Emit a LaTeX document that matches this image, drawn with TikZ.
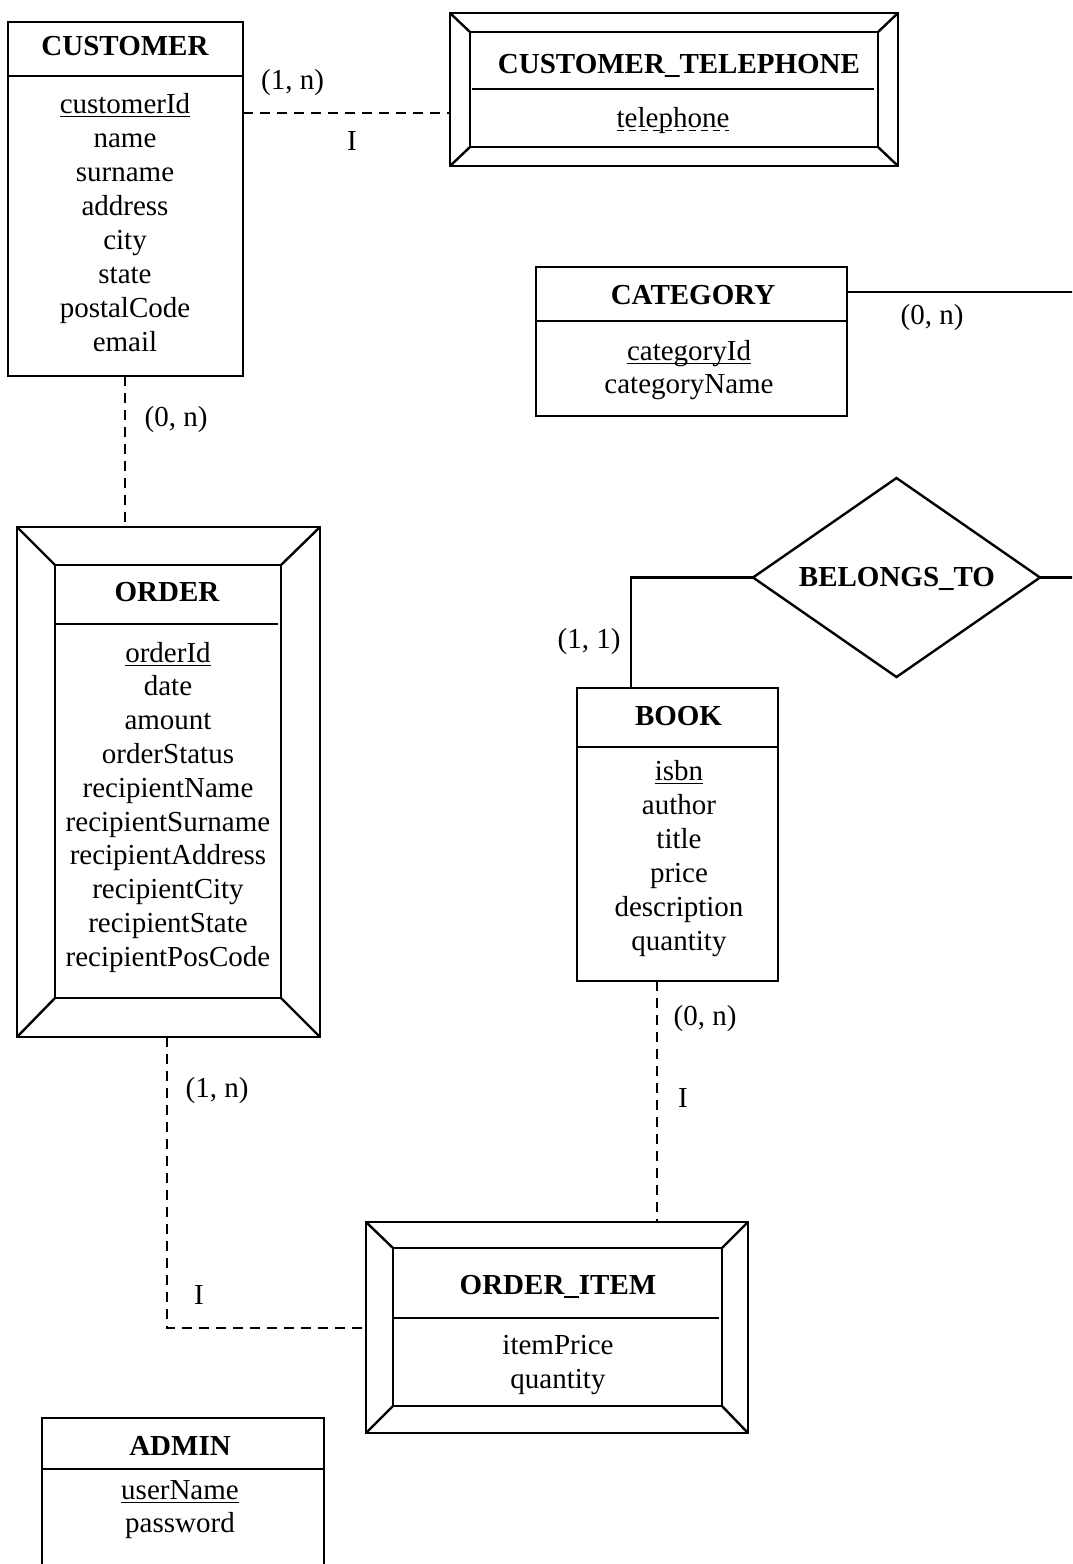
\documentclass[tikz,border=0pt]{standalone}
\usepackage{fontspec}
\setmainfont{Liberation Serif}
\usetikzlibrary{shapes.geometric,calc}
\begin{document}
\begin{tikzpicture}[x=1pt,y=-1pt,line width=2.4pt,
  box/.style={draw,rectangle,inner sep=0pt,outer sep=0pt,line width=2.4pt},
  txt/.style={inner sep=0pt,outer sep=0pt,anchor=base,font=\fontsize{29}{34}\selectfont},
  ttl/.style={txt,font=\fontsize{29}{34}\selectfont\bfseries},
  conn/.style={line width=2.4pt,dash pattern=on 10pt off 7pt},
  sconn/.style={line width=2.4pt},
  uline/.style={line width=1.8pt},
  duline/.style={line width=1.8pt,dash pattern=on 7pt off 5pt}]
\useasboundingbox (0,0) rectangle (1072,1564);
\clip (0,0) rectangle (1072,1564);

% CUSTOMER
\node[box,minimum width=235pt,minimum height=354pt] (cust) at (125.5,199) {};
\draw (cust.west |- 0,76) -- (cust.east |- 0,76);
\node[ttl] (custt) at (125,55) {CUSTOMER};
\node[txt] (custk) at (125,113) {customerId};
\draw[uline] ([yshift=-3.5pt]custk.base west) -- ([yshift=-3.5pt]custk.base east);
\foreach \t [count=\i from 1] in {name,surname,address,city,state,postalCode,email}
  \node[txt] at (125,{113+34*\i}) {\t};

% CUSTOMER_TELEPHONE (weak entity)
\node[box,minimum width=448pt,minimum height=153pt] (telo) at (674,89.5) {};
\node[box,minimum width=408pt,minimum height=115pt] (teli) at (674,89.5) {};
\foreach \c in {north west,north east,south west,south east}
  \draw (telo.\c) -- (teli.\c);
\draw (472,89) -- (874,89);
\node[ttl] (telt) at (679,73) {CUSTOMER\_TELEPHONE};
\node[txt] (telk) at (673,127) {telephone};
\draw[duline] ([yshift=-3.5pt]telk.base west) -- ([yshift=-3.5pt]telk.base east);

% CATEGORY
\node[box,minimum width=311pt,minimum height=149pt] (cat) at (691.5,341.5) {};
\draw (cat.west |- 0,321) -- (cat.east |- 0,321);
\node[ttl] (catt) at (693,304) {CATEGORY};
\node[txt] (catk) at (689,360) {categoryId};
\draw[uline] ([yshift=-3.5pt]catk.base west) -- ([yshift=-3.5pt]catk.base east);
\node[txt] (catn) at (689,393) {categoryName};

% BELONGS_TO
\node[draw,diamond,aspect=1.44,minimum width=287pt,minimum height=199pt,inner sep=0pt,outer sep=0pt,line width=2.4pt] (bel) at (896.5,577.5) {};
\node[ttl] (belt) at (897,586) {BELONGS\_TO};

% BOOK
\node[box,minimum width=201pt,minimum height=293pt] (book) at (677.5,834.5) {};
\draw (book.west |- 0,747) -- (book.east |- 0,747);
\node[ttl] (bookt) at (678.5,725) {BOOK};
\node[txt] (bookk) at (679,780) {isbn};
\draw[uline] ([yshift=-3.5pt]bookk.base west) -- ([yshift=-3.5pt]bookk.base east);
\foreach \t [count=\i from 1] in {author,title,price,description,quantity}
  \node[txt] at (679,{780+34*\i}) {\t};

% ORDER (weak entity)
\node[box,minimum width=303pt,minimum height=510pt] (ordo) at (168.5,782) {};
\node[box,minimum width=226pt,minimum height=433pt] (ordi) at (168,781.5) {};
\foreach \c in {north west,north east,south west,south east}
  \draw (ordo.\c) -- (ordi.\c);
\draw (55,624) -- (278,624);
\node[ttl] (ordt) at (167,601) {ORDER};
\node[txt] (ordk) at (168,662) {orderId};
\draw[uline] ([yshift=-3.5pt]ordk.base west) -- ([yshift=-3.5pt]ordk.base east);
\foreach \t [count=\i from 1] in {date,amount,orderStatus,recipientName,recipientSurname,recipientAddress,recipientCity,recipientState,recipientPosCode}
  \node[txt] at (168,{662+33.8*\i}) {\t};

% ORDER_ITEM (weak entity)
\node[box,minimum width=382pt,minimum height=211pt] (itemo) at (557,1327.5) {};
\node[box,minimum width=329pt,minimum height=158pt] (itemi) at (557.5,1327) {};
\foreach \c in {north west,north east,south west,south east}
  \draw (itemo.\c) -- (itemi.\c);
\draw (394,1318) -- (719,1318);
\node[ttl] (itemt) at (558,1294) {ORDER\_ITEM};
\node[txt] (itemp) at (558,1354) {itemPrice};
\node[txt] (itemq) at (558,1388) {quantity};

% ADMIN
\node[box,minimum width=282pt,minimum height=182pt] (adm) at (183,1509) {};
\draw (adm.west |- 0,1469) -- (adm.east |- 0,1469);
\node[ttl] (admt) at (180,1455) {ADMIN};
\node[txt] (admk) at (180,1499) {userName};
\draw[uline] ([yshift=-3.5pt]admk.base west) -- ([yshift=-3.5pt]admk.base east);
\node[txt] (admp) at (180,1532) {password};

% connectors
\draw[conn] (cust.east |- 0,113) -- (telo.west |- 0,113);
\node[txt] (l1) at (292.5,89) {(1, n)};
\node[txt] (l2) at (352,150) {I};

\draw[conn] (125,376) -- (125,527);
\node[txt] (l3) at (176,426) {(0, n)};

\draw[conn] (167,1037) |- (itemo.west |- 0,1328);
\node[txt] (l4) at (217,1097) {(1, n)};
\node[txt] (l5) at (199,1304) {I};

\draw[conn] (book.south -| 657,0) -- (itemo.north -| 657,0);
\node[txt] (l6) at (705,1025) {(0, n)};
\node[txt] (l7) at (683,1107) {I};

\coordinate (e1) at (1080,292);
\coordinate (e2) at (1080,577.5);
\draw[sconn] (cat.east |- 0,292) -- (e1);
\node[txt] (l8) at (932,324) {(0, n)};
\draw[sconn] (bel.east) -- (e2);
\draw[sconn] (bel.west) -| (book.north -| 631,0);
\node[txt] (l9) at (589,648) {(1, 1)};
\end{tikzpicture}
\end{document}
